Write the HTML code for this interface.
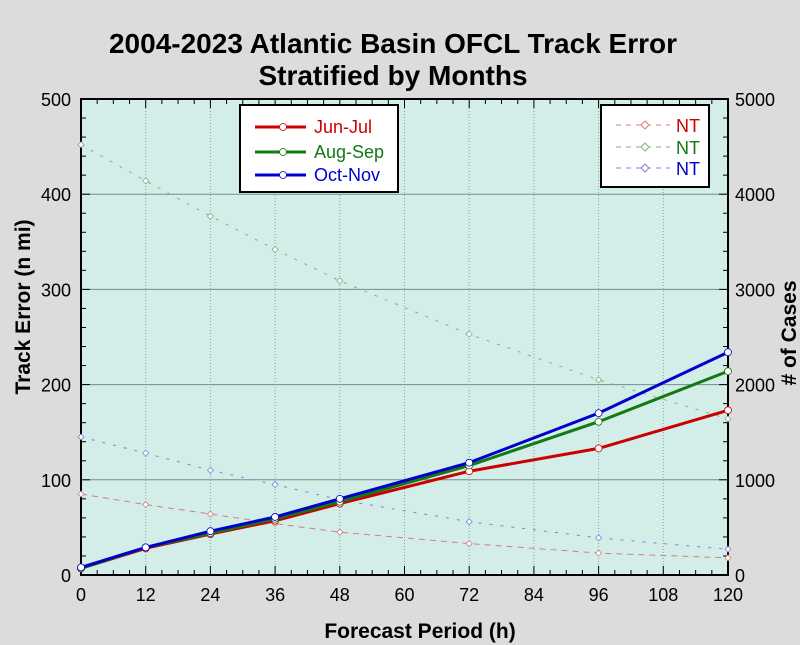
<!DOCTYPE html>
<html><head><meta charset="utf-8"><style>
html,body{margin:0;padding:0;background:#dcdcdc;}
svg{display:block;font-family:"Liberation Sans",Arial,sans-serif;}
</style></head><body>
<svg id="s" width="800" height="645" xmlns="http://www.w3.org/2000/svg">
<rect width="800" height="645" fill="#dcdcdc"/>
<text x="393" y="53" text-anchor="middle" font-size="28" font-weight="bold">2004-2023 Atlantic Basin OFCL Track Error</text>
<text x="393" y="85" text-anchor="middle" font-size="28" font-weight="bold">Stratified by Months</text>
<rect x="81" y="99" width="647" height="476" fill="#d3ede9"/>
<g id="g"></g>
<text x="420" y="638" text-anchor="middle" font-size="21" font-weight="bold">Forecast Period (h)</text>
<text transform="translate(30,307) rotate(-90)" text-anchor="middle" font-size="21" font-weight="bold">Track Error (n mi)</text>
<text transform="translate(796,333) rotate(-90)" text-anchor="middle" font-size="21" font-weight="bold"># of Cases</text>
</svg>
<script>
const L=81,R=728,T=99,B=575;
const X=h=>L+(R-L)*h/120, Y=v=>B-(B-T)*v/500, Y2=v=>B-(B-T)*v/5000;
let s='';
for(let v=100;v<500;v+=100)s+=`<line x1="${L}" x2="${R}" y1="${Y(v)}" y2="${Y(v)}" stroke="#6f8f8a" stroke-width="1"/>`;
for(let h=12;h<120;h+=12)s+=`<line x1="${X(h)}" x2="${X(h)}" y1="${T}" y2="${B}" stroke="#8a9e9a" stroke-width="1" stroke-dasharray="1,2"/>`;
for(let h=0;h<=120;h+=3){const l=h%12==0?9:5;s+=`<line x1="${X(h)}" x2="${X(h)}" y1="${B}" y2="${B-l}" stroke="#000"/><line x1="${X(h)}" x2="${X(h)}" y1="${T}" y2="${T+l}" stroke="#000"/>`;}
for(let v=0;v<=500;v+=20){const l=v%100==0?9:5;s+=`<line x1="${L}" x2="${L+l}" y1="${Y(v)}" y2="${Y(v)}" stroke="#000"/><line x1="${R}" x2="${R-l}" y1="${Y(v)}" y2="${Y(v)}" stroke="#000"/>`;}
s+=`<rect x="${L}" y="${T}" width="${R-L}" height="${B-T}" fill="none" stroke="#000" stroke-width="2"/>`;
for(let h=0;h<=120;h+=12)s+=`<text x="${X(h)}" y="601" text-anchor="middle" font-size="18">${h}</text>`;
for(let v=0;v<=500;v+=100){s+=`<text x="71" y="${Y(v)+7}" text-anchor="end" font-size="18">${v}</text>`;s+=`<text x="735" y="${Y(v)+7}" font-size="18">${v*10}</text>`;}
const H=[0,12,24,36,48,72,96,120];
const nt=[["#d08080",[850,740,640,540,450,330,230,180],"6,5"],["#80b080",[4520,4140,3770,3420,3090,2530,2050,1640],"3,8"],["#8080d8",[1450,1280,1100,950,790,560,390,270],"3,8"]];
nt.forEach(([c,d,da])=>{s+=`<polyline fill="none" stroke="${c}" stroke-width="1" stroke-dasharray="${da}" points="${H.map((h,i)=>X(h)+','+Y2(d[i])).join(' ')}"/>`;
H.forEach((h,i)=>{const x=X(h),y=Y2(d[i]);s+=`<path d="M${x-3},${y}L${x},${y-3}L${x+3},${y}L${x},${y+3}Z" fill="#fff" stroke="${c}" stroke-width="0.8"/>`;});});
const er=[["#cc0000",[7,28,43,57,75,109,133,173]],["#117a11",[7,29,44,59,77,115,161,214]],["#0000cc",[8,29,46,61,80,118,170,234]]];
er.forEach(([c,d])=>{s+=`<polyline fill="none" stroke="${c}" stroke-width="3" points="${H.map((h,i)=>X(h)+','+Y(d[i])).join(' ')}"/>`;});
er.forEach(([c,d])=>{H.forEach((h,i)=>{s+=`<circle cx="${X(h)}" cy="${Y(d[i])}" r="3.5" fill="#fff" stroke="${c}" stroke-width="0.8"/>`;});});
s+=`<rect x="240" y="105" width="158" height="87" fill="#fff" stroke="#000" stroke-width="2"/>`;
[["#cc0000","Jun-Jul",127],["#117a11","Aug-Sep",152],["#0000cc","Oct-Nov",175]].forEach(([c,t,y])=>{s+=`<line x1="255" x2="306" y1="${y}" y2="${y}" stroke="${c}" stroke-width="3"/><circle cx="283" cy="${y}" r="3.5" fill="#fff" stroke="${c}" stroke-width="0.8"/><text x="314" y="${y+6}" font-size="18" fill="${c}">${t}</text>`;});
s+=`<rect x="601" y="105" width="108" height="82" fill="#fff" stroke="#000" stroke-width="2"/>`;
[["#cc0000","#d08080",125],["#117a11","#80b080",147],["#0000cc","#8080d8",168]].forEach(([c,lc,y])=>{s+=`<line x1="616" x2="670" y1="${y}" y2="${y}" stroke="${lc}" stroke-width="1" stroke-dasharray="5,5"/><path d="M${641},${y}L${645},${y-4}L${649},${y}L${645},${y+4}Z" fill="#fff" stroke="${lc}"/><text x="676" y="${y+7}" font-size="18" fill="${c}">NT</text>`;});
document.getElementById('g').innerHTML=s;
</script>
</body></html>
